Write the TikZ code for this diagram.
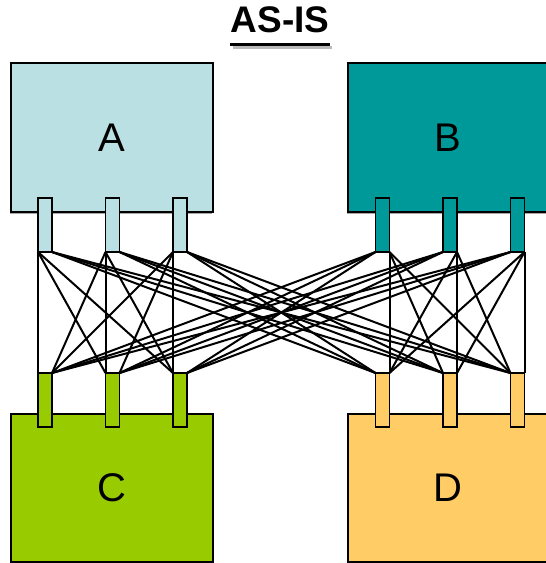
\documentclass[tikz,border=0pt]{standalone}
\usepackage{fontspec}
\setmainfont{Liberation Sans}
\usetikzlibrary{shadows}
\definecolor{cA}{HTML}{BBE0E3}
\definecolor{cB}{HTML}{009999}
\definecolor{cC}{HTML}{99CC00}
\definecolor{cD}{HTML}{FFCC66}
\begin{document}
\begin{tikzpicture}[x=1pt,y=-1pt,
  box/.style={draw, line width=1.5pt, inner sep=0pt, outer sep=0pt,
    font=\fontsize{40}{40}\selectfont,
    drop shadow={shadow xshift=-1.5pt, shadow yshift=-1.5pt, fill=gray!70, opacity=1}},
  port/.style={draw, line width=1.5pt, minimum width=14pt, minimum height=54pt,
    inner sep=0pt, outer sep=0pt},
  wire/.style={line width=2pt}]
\useasboundingbox (0,0) rectangle (546,563);
\clip (0,0) rectangle (546,563);
% title
\node[font=\fontsize{37}{37}\bfseries\selectfont, inner sep=0pt] (title) at (280,20) {AS-IS};
\fill[gray!55] ([xshift=2.5pt]title.south west |- 0,45.5) rectangle ([xshift=2.5pt]title.south east |- 0,49);
\fill (title.south west |- 0,42.5) rectangle (title.south east |- 0,46);
% boxes
\node[box, fill=cA, minimum width=202pt, minimum height=149pt] (A) at (112,137.5) {A};
\node[box, fill=cB, minimum width=200pt, minimum height=149pt] (B) at (448,137.5) {B};
\node[box, fill=cC, minimum width=202pt, minimum height=148pt] (C) at (112,488) {C};
\node[box, fill=cD, minimum width=200pt, minimum height=148pt] (D) at (448,488) {D};
% ports
\foreach \n/\x in {1/45,2/112.5,3/180}{
  \node[port, fill=cA] (a\n) at (\x,225) {};
  \node[port, fill=cC] (c\n) at (\x,400) {};
}
\foreach \n/\x in {1/382.5,2/450,3/517.5}{
  \node[port, fill=cB] (b\n) at (\x,225) {};
  \node[port, fill=cD] (d\n) at (\x,400) {};
}
% wires
\foreach \i/\s in {1/a1,2/a2,3/a3,4/b1,5/b2,6/b3}{
  \foreach \j/\t in {1/c1,2/c2,3/c3,4/d1,5/d2,6/d3}{
    \ifnum\j<4 \def\sa{south west}\else\def\sa{south east}\fi
    \ifnum\i<\j \def\ta{north west}\else
      \ifnum\i>\j \def\ta{north east}\else
        \ifnum\j<4 \def\ta{north west}\else\def\ta{north east}\fi
      \fi
    \fi
    \draw[wire] (\s.\sa) -- (\t.\ta);
  }
}
\end{tikzpicture}
\end{document}
